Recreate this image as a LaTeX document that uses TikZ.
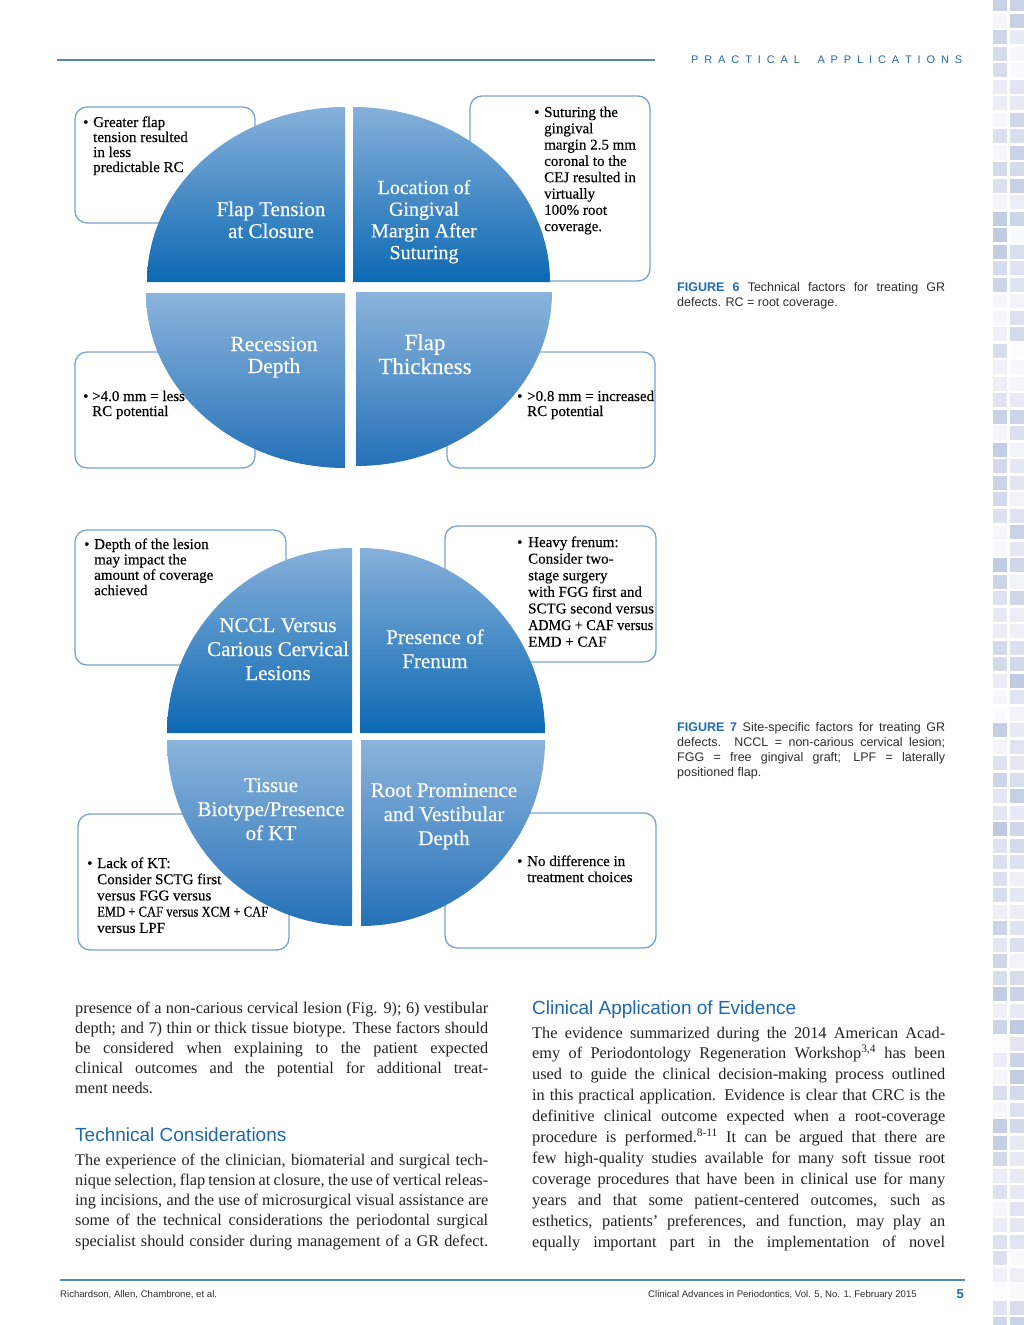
\documentclass[tikz,border=0pt]{standalone}
\usepackage{fontspec}
\setmainfont{Liberation Serif}
\newfontfamily\sansf{Liberation Sans}
\newfontfamily\bodyf{Liberation Serif}
\newfontfamily\figf[FakeBold=0.3]{Liberation Serif}
\definecolor{hdrline}{RGB}{88,138,176}
\definecolor{hdrtext}{RGB}{40,104,165}
\definecolor{headblue}{RGB}{28,104,168}
\definecolor{figblue}{RGB}{30,108,178}
\definecolor{qlight}{RGB}{134,176,218}
\definecolor{qdark}{RGB}{12,105,179}
\definecolor{qlightb}{RGB}{140,180,220}
\definecolor{qdarkb}{RGB}{36,113,184}
\definecolor{boxblue}{RGB}{122,163,204}
\definecolor{bodygray}{RGB}{34,34,34}
\definecolor{capgray}{RGB}{45,45,45}
\definecolor{stripc}{RGB}{176,189,219}
\tikzset{
  infobox/.style={draw=boxblue, line width=1.3pt, rounded corners=12pt, fill=white},
  qtop/.style={top color=qlight, bottom color=qdark, draw=none},
  qbot/.style={top color=qlightb, bottom color=qdarkb, draw=none},
  boxtxt/.style={anchor=base west, inner sep=0pt, font=\figf\fontsize{15}{16}\selectfont, text=black},
  bullet/.style={anchor=base west, inner sep=0pt, font=\figf\fontsize{15}{16}\selectfont, text=black},
  qtxt/.style={anchor=base, inner sep=0pt, text=white},
  bodyl/.style={anchor=base west, inner sep=0pt, font=\bodyf\fontsize{16.3}{20}\selectfont, text=bodygray},
  captxt/.style={anchor=base west, inner sep=0pt, font=\sansf\fontsize{12.5}{15}\selectfont, text=capgray},
  headtxt/.style={anchor=base west, inner sep=0pt, font=\sansf\fontsize{19}{22}\selectfont, text=headblue},
  foot/.style={inner sep=0pt, font=\sansf\fontsize{9.6}{11}\selectfont, text=capgray},
}
\begin{document}
\begin{tikzpicture}[x=1pt,y=-1pt]
\useasboundingbox (0,0) rectangle (1024,1325);
\fill[white] (0,0) rectangle (1024,1325);

% decorative strip
\pgfmathsetseed{11}
\foreach \i in {0,...,80}{
  \foreach \c in {0,1}{
    \pgfmathrandominteger{\r}{4}{80}
    \fill[stripc!\r!white] ({993+\c*17},{\i*16.5-3}) rectangle ++(14,14);
  }
}

% header
\draw[hdrline, line width=2pt] (57,60) -- (655,60);
\node[anchor=base west, inner sep=0pt, text=hdrtext, font=\sansf\fontsize{11}{12}\selectfont] (hdr) at (691,63)
 {\makebox[271pt]{P\hfill R\hfill A\hfill C\hfill T\hfill I\hfill C\hfill A\hfill L\hfill\hfill\hfill A\hfill P\hfill P\hfill L\hfill I\hfill C\hfill A\hfill T\hfill I\hfill O\hfill N\hfill S}};

% ================= FIGURE 6 =================
\draw[infobox] (75,107) rectangle (255,223);
\draw[infobox] (470,96) rectangle (650,281);
\draw[infobox] (75,352) rectangle (255,468);
\draw[infobox] (447,352) rectangle (655,468);

\path[qtop] (345,282) -- ++(-198,0) arc[start angle=180,end angle=270,x radius=198,y radius=175] -- cycle;
\path[qtop] (353,282) -- ++(0,-175) arc[start angle=270,end angle=360,x radius=197,y radius=175] -- cycle;
\path[qbot] (345,293) -- ++(0,175) arc[start angle=90,end angle=180,x radius=199,y radius=175] -- cycle;
\path[qbot] (356,292) -- ++(196,0) arc[start angle=0,end angle=90,x radius=196,y radius=174] -- cycle;

\foreach \t [count=\i] in {Flap Tension, at Closure}
  \node[qtxt, font=\figf\fontsize{21}{22}\selectfont] (f6a-\i) at (271,{216+(\i-1)*22}) {\t};
\foreach \t [count=\i] in {Location of, Gingival, Margin After, Suturing}
  \node[qtxt, font=\figf\fontsize{20}{22}\selectfont] (f6b-\i) at (424,{194+(\i-1)*21.7}) {\t};
\foreach \t [count=\i] in {Recession, Depth}
  \node[qtxt, font=\figf\fontsize{21.5}{22}\selectfont] (f6c-\i) at (274,{351+(\i-1)*22}) {\t};
\foreach \t [count=\i] in {Flap, Thickness}
  \node[qtxt, font=\figf\fontsize{23}{24}\selectfont] (f6d-\i) at (425,{350+(\i-1)*24}) {\t};

\node[bullet] (b6a) at (83,127) {\textbullet};
\foreach \t [count=\i] in {Greater flap, tension resulted, in less, predictable RC}
  \node[boxtxt] (t6a-\i) at (93,{127+(\i-1)*15}) {\t};
\node[bullet] (b6b) at (534,117) {\textbullet};
\foreach \t [count=\i] in {Suturing the, gingival, margin 2.5 mm, coronal to the, CEJ resulted in, virtually, 100\% root, coverage.}
  \node[boxtxt] (t6b-\i) at (544,{117+(\i-1)*16.3}) {\t};
\node[bullet] (b6c) at (83,401) {\textbullet};
\foreach \t [count=\i] in {>4.0 mm = less, RC potential}
  \node[boxtxt] (t6c-\i) at (92,{401+(\i-1)*15}) {\t};
\node[bullet] (b6d) at (517,401) {\textbullet};
\foreach \t [count=\i] in {>0.8 mm = increased, RC potential}
  \node[boxtxt] (t6d-\i) at (527,{401+(\i-1)*15}) {\t};

% caption 6
\node[captxt] (cap6a) at (677,291) {\makebox[268pt][s]{\textcolor{figblue}{\textbf{FIGURE 6}} Technical factors for treating GR}};
\node[captxt] (cap6b) at (677,306) {defects. RC = root coverage.};

% ================= FIGURE 7 =================
\draw[infobox] (75,530) rectangle (286,665);
\draw[infobox] (445,526) rectangle (656,662);
\draw[infobox] (78,814) rectangle (289,950);
\draw[infobox] (445,813) rectangle (656,948);

\path[qtop] (352,733) -- ++(-185,0) arc[start angle=180,end angle=270,x radius=185,y radius=185] -- cycle;
\path[qtop] (360,733) -- ++(0,-185) arc[start angle=270,end angle=360,x radius=185,y radius=185] -- cycle;
\path[qbot] (352,740) -- ++(0,186) arc[start angle=90,end angle=180,x radius=185,y radius=186] -- cycle;
\path[qbot] (361,740) -- ++(184,0) arc[start angle=0,end angle=90,x radius=184,y radius=186] -- cycle;

\foreach \t [count=\i] in {NCCL Versus, Carious Cervical, Lesions}
  \node[qtxt, font=\figf\fontsize{21}{24}\selectfont] (f7a-\i) at (278,{632+(\i-1)*24}) {\t};
\foreach \t [count=\i] in {Presence of, Frenum}
  \node[qtxt, font=\figf\fontsize{21}{24}\selectfont] (f7b-\i) at (435,{644+(\i-1)*24}) {\t};
\foreach \t [count=\i] in {Tissue, Biotype/Presence, of KT}
  \node[qtxt, font=\figf\fontsize{21}{24}\selectfont] (f7c-\i) at (271,{792+(\i-1)*24}) {\t};
\foreach \t [count=\i] in {Root Prominence, and Vestibular, Depth}
  \node[qtxt, font=\figf\fontsize{21}{24}\selectfont] (f7d-\i) at (444,{797+(\i-1)*24}) {\t};

\node[bullet] (b7a) at (84,549) {\textbullet};
\foreach \t [count=\i] in {Depth of the lesion, may impact the, amount of coverage, achieved}
  \node[boxtxt] (t7a-\i) at (94,{549+(\i-1)*15.4}) {\t};
\node[bullet] (b7b) at (517,547) {\textbullet};
\foreach \t [count=\i] in {Heavy frenum:, Consider two-, stage surgery, with FGG first and, SCTG second versus, \scalebox{0.94}[1]{ADMG + CAF versus}, EMD + CAF}
  \node[boxtxt] (t7b-\i) at (528,{547+(\i-1)*16.6}) {\t};
\node[bullet] (b7c) at (87,868) {\textbullet};
\foreach \t [count=\i] in {Lack of KT:, Consider SCTG first, versus FGG versus, \scalebox{0.84}[1]{EMD + CAF versus XCM + CAF}, versus LPF}
  \node[boxtxt] (t7c-\i) at (97,{868+(\i-1)*16.2}) {\t};
\node[bullet] (b7d) at (517,866) {\textbullet};
\foreach \t [count=\i] in {No difference in, treatment choices}
  \node[boxtxt] (t7d-\i) at (527,{866+(\i-1)*16}) {\t};

% caption 7
\node[captxt] (cap7a) at (677,731) {\makebox[268pt][s]{\textcolor{figblue}{\textbf{FIGURE 7}} Site-specific factors for treating GR}};
\node[captxt] (cap7b) at (677,746) {\makebox[268pt][s]{defects. NCCL = non-carious cervical lesion;}};
\node[captxt] (cap7c) at (677,761) {\makebox[268pt][s]{FGG = free gingival graft; LPF = laterally}};
\node[captxt] (cap7d) at (677,776) {positioned flap.};

% ================= BODY TEXT =================
\foreach \t [count=\i] in {
  {presence of a non-carious cervical lesion (Fig. 9); 6) vestibular},
  {depth; and 7) thin or thick tissue biotype. These factors should},
  {be considered when explaining to the patient expected},
  {clinical outcomes and the potential for additional treat-}}
  \node[bodyl] (lc-\i) at (75,{1013+(\i-1)*20}) {\makebox[413pt][s]{\t}};
\node[bodyl] (lc-5) at (75,1093) {ment needs.};

\node[headtxt] (h1) at (75,1141) {Technical Considerations};
\foreach \t [count=\i] in {
  {The experience of the clinician, biomaterial and surgical tech-},
  {nique selection, flap tension at closure, the use of vertical releas-},
  {ing incisions, and the use of microsurgical visual assistance are},
  {some of the technical considerations the periodontal surgical},
  {specialist should consider during management of a GR defect.}}
  \node[bodyl] (ld-\i) at (75,{1165+(\i-1)*20.25}) {\makebox[413pt][s]{\t}};

\node[headtxt] (h2) at (532,1014) {Clinical Application of Evidence};
\foreach \t [count=\i] in {
  {The evidence summarized during the 2014 American Acad-},
  {emy of Periodontology Regeneration Workshop\textsuperscript{3,4} has been},
  {used to guide the clinical decision-making process outlined},
  {in this practical application. Evidence is clear that CRC is the},
  {definitive clinical outcome expected when a root-coverage},
  {procedure is performed.\textsuperscript{8-11} It can be argued that there are},
  {few high-quality studies available for many soft tissue root},
  {coverage procedures that have been in clinical use for many},
  {years and that some patient-centered outcomes, such as},
  {esthetics, patients’ preferences, and function, may play an},
  {equally important part in the implementation of novel}}
  \node[bodyl] (rc-\i) at (532,{1038+(\i-1)*20.9}) {\makebox[413pt][s]{\t}};

% footer
\draw[hdrline, line width=1.5pt] (60,1280) -- (965,1280);
\node[foot, anchor=base west] (fa) at (60,1297) {Richardson, Allen, Chambrone, et al.};
\node[foot, anchor=base east] (fb) at (917,1297) {Clinical Advances in Periodontics, Vol. 5, No. 1, February 2015};
\node[anchor=base east, inner sep=0pt, text=figblue, font=\sansf\bfseries\fontsize{13}{14}\selectfont] (pg) at (964,1298) {5};
\end{tikzpicture}
\end{document}
